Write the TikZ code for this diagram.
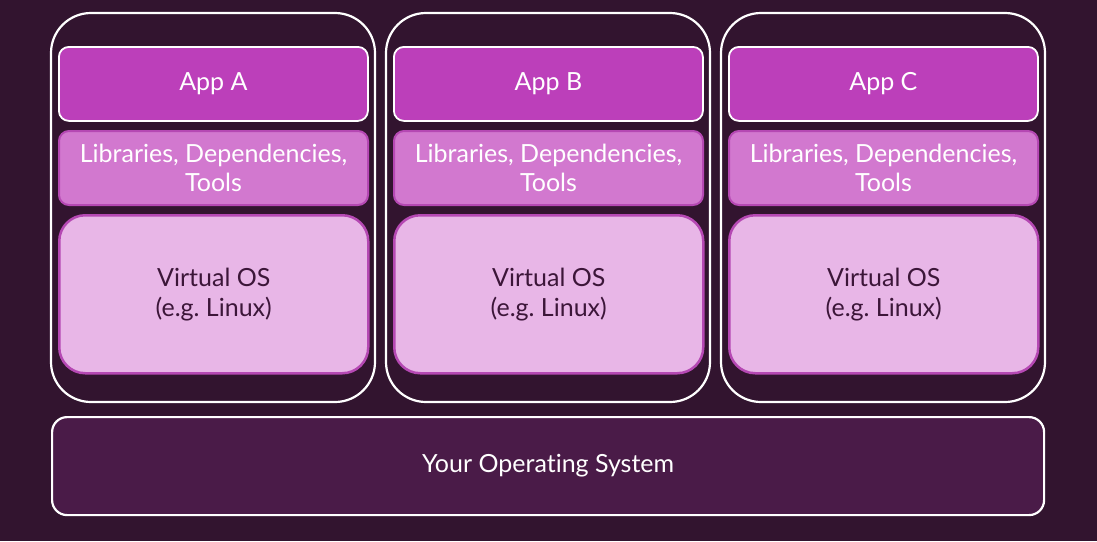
\documentclass[tikz,border=0pt]{standalone}
\usepackage{fontspec}
\setmainfont[Ligatures={NoCommon}]{Lato}
\frenchspacing
\definecolor{bg}{HTML}{32142F}
\definecolor{appfill}{HTML}{BC3FBA}
\definecolor{libfill}{HTML}{D278CF}
\definecolor{libborder}{HTML}{B548B3}
\definecolor{osfill}{HTML}{E8B6E7}
\definecolor{osborder}{HTML}{B548B3}
\definecolor{ostext}{HTML}{3C1639}
\definecolor{hostfill}{HTML}{4A1B48}
\tikzset{
  container/.style={draw=white, line width=2.2pt, rounded corners=40pt},
  appbox/.style={draw=white, line width=1.8pt, fill=appfill, rounded corners=10pt, text=white, font=\fontsize{25}{29}\selectfont},
  libbox/.style={draw=libborder, line width=2pt, fill=libfill, rounded corners=10pt, text=white, font=\fontsize{25}{29}\selectfont, align=center},
  vosbox/.style={draw=osborder, line width=2.5pt, fill=osfill, rounded corners=26pt, text=ostext, font=\fontsize{25}{30}\selectfont, align=center},
  hostbox/.style={draw=white, line width=2.2pt, fill=hostfill, rounded corners=15pt, text=white, font=\fontsize{25}{29}\selectfont},
}
\begin{document}
\begin{tikzpicture}[x=1pt,y=-1pt]
\fill[bg] (0,0) rectangle (1097,541);
\useasboundingbox (0,0) rectangle (1097,541);
\foreach \n/\l [count=\i from 0] in {a/A,b/B,c/C}{
  \pgfmathsetmacro{\dx}{335*\i}
  \begin{scope}[xshift=\dx]
    \draw[container] (51,13) rectangle (375,402);
    \node[appbox, minimum width=309pt, minimum height=74pt, anchor=north west] (app\n) at (58,46) {App \l};
    \node[libbox, minimum width=309pt, minimum height=74pt, anchor=north west] (lib\n) at (58,130) {Libraries, Dependencies,\\Tools};
    \node[vosbox, minimum width=309pt, minimum height=158pt, anchor=north west] (vos\n) at (58,214) {Virtual OS\\(e.g. Linux)};
  \end{scope}
}
\node[hostbox, minimum width=992pt, minimum height=98pt, anchor=north west] (host) at (51,416) {Your Operating System};
\end{tikzpicture}
\end{document}
